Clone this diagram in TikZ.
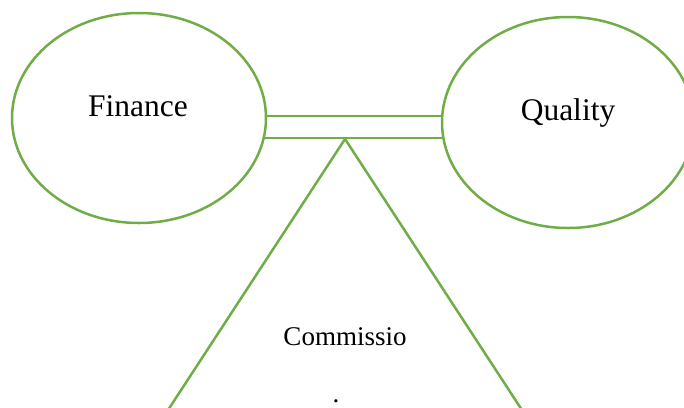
\documentclass[tikz,border=0pt]{standalone}
\usepackage{fontspec}
\setmainfont{Liberation Serif}
\usetikzlibrary{shapes.geometric,calc}
\definecolor{leafgreen}{RGB}{112,173,71}
\tikzset{
  bubble/.style={ellipse,draw=leafgreen,line width=2.5pt,inner sep=0pt,outer sep=0pt,
    minimum width=254pt,minimum height=210pt},
  bubbletext/.style={inner sep=0pt,font=\fontsize{31.5}{36}\selectfont},
  tri/.style={draw=leafgreen,line width=2.5pt}
}
\begin{document}
\begin{tikzpicture}[x=1pt,y=-1pt]
  \useasboundingbox (0,0) rectangle (684,407);
  \clip (0,0) rectangle (684,407);
  %\draw[help lines] (0,0) grid[step=50] (684,407);
\node[bubble] (fin) at (139,118) {};
\node[bubble,minimum width=252pt,minimum height=211pt] (qual) at (568,122.5) {};
\node[bubbletext] (finlbl) at (138,106) {Finance};
\node[bubbletext] (quallbl) at (568,112.5) {Quality};
  % the two bars joining the bubbles
\draw[tri] (fin.1) -- (fin.1 -| qual.west);
\draw[tri] (fin.-9.4) -- (fin.-9.4 -| qual.west);
\coordinate (apex) at (345,139);
\draw[tri,line join=miter] ($(apex)+(-200,306.3)$) -- (apex) -- ($(apex)+(200,306.3)$);
\node[inner sep=0pt,font=\fontsize{27}{30}\selectfont] (com) at (345,337) {Commissio};
\node[inner sep=0pt,font=\fontsize{27}{30}\selectfont] (comdot) at (336,401) {.};
\end{tikzpicture}
\end{document}
